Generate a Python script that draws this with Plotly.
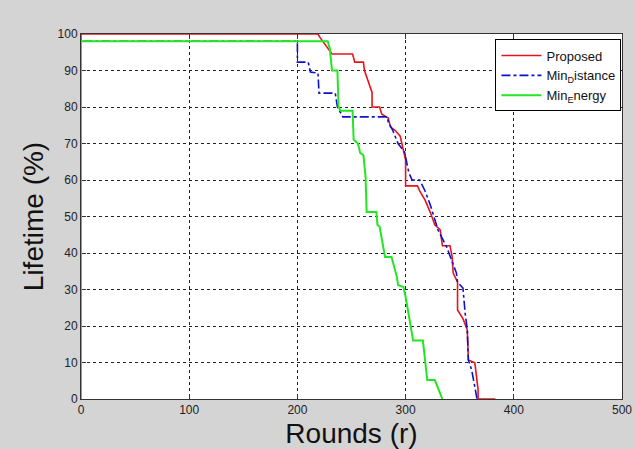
import plotly.graph_objects as go

# Proposed
prop_r = [0, 0, 219, 221, 232, 251, 253, 261, 262, 269, 269, 276, 278, 284, 286, 290, 295, 298, 300, 300, 311, 313, 318, 323, 327, 332, 334, 341, 343, 344, 348, 348, 353, 357, 358, 364, 367, 367, 383]
prop_v = [0, 100, 100, 99, 94.5, 94.5, 92.3, 92.3, 90, 84, 80, 80, 78, 77, 74.5, 73.7, 72, 68, 65.5, 58.4, 58.4, 57, 54.5, 51, 47.7, 46.3, 42, 42, 39, 34.5, 32, 24.4, 22, 19, 10.7, 9.9, 2.5, 0, 0]

# Min Distance
dist_r = [0, 0, 200, 200, 210, 212, 219, 220, 235, 237, 242, 283, 284, 288, 293, 299, 303, 306, 313, 318, 323, 327, 330, 338, 343, 347, 348, 353, 355, 357, 358, 361, 364, 366]
dist_v = [0, 98, 98, 92.3, 92.3, 89.6, 89.3, 83.8, 83.8, 80, 77.3, 77.3, 75.9, 73.7, 70, 67.7, 62, 60, 60, 57, 53, 49, 46.3, 41.6, 37.5, 34.5, 32, 30.4, 23.6, 19, 10.7, 8, 3.3, 0]

# Min Energy
en_r = [0, 0, 228, 230, 232, 237, 238, 240, 251, 252, 256, 258, 261, 263, 264, 273, 274, 276, 281, 287, 292, 293, 298, 300, 307, 316, 320, 327, 334]
en_v = [0, 98, 98, 96, 90, 90, 80, 79, 79, 71, 70, 67.4, 66.8, 60.8, 51.2, 51.2, 47.7, 47.2, 38.9, 38.9, 33.4, 31.2, 30.7, 28, 16, 16, 5.2, 5.2, 0]

x_ticks = [0, 100, 200, 300, 400, 500]
y_ticks = [0, 10, 20, 30, 40, 50, 60, 70, 80, 90, 100]

fig = go.Figure()
fig.add_trace(go.Scatter(x=prop_r, y=prop_v, mode="lines", name="Proposed",
                         line=dict(color="#e8141c", width=1.6)))
fig.add_trace(go.Scatter(x=dist_r, y=dist_v, mode="lines", name="Min<sub>D</sub>istance",
                         line=dict(color="#1010c8", width=1.6, dash="dashdot")))
fig.add_trace(go.Scatter(x=en_r, y=en_v, mode="lines", name="Min<sub>E</sub>nergy",
                         line=dict(color="#22e622", width=2)))

axis_common = dict(
    showline=True, linecolor="#333333", linewidth=1, mirror="ticks",
    ticks="inside", ticklen=5, tickcolor="#333333",
    showgrid=True, gridcolor="#222222", gridwidth=1, griddash="3px,3px",
    zeroline=False, layer="below traces",
    tickfont=dict(family="Arial, Liberation Sans", size=12, color="#222222"),
)

fig.update_xaxes(range=[0, 500], tickvals=x_ticks, automargin=False,
                 title=dict(text="Rounds (r)", font=dict(family="Arial, Liberation Sans", size=28, color="#111111")),
                 **axis_common)
fig.update_yaxes(range=[0, 100], tickvals=y_ticks, automargin=True,
                 title=dict(text="Lifetime (%)", standoff=5,
                            font=dict(family="Arial, Liberation Sans", size=28, color="#111111")),
                 **axis_common)

fig.update_layout(
    width=635, height=449,
    margin=dict(l=81, r=13, t=34, b=50),
    paper_bgcolor="#d4d4d4", plot_bgcolor="white",
    showlegend=True,
    legend=dict(x=0.999, y=0.985, xanchor="right", yanchor="top",
                bgcolor="white", bordercolor="black", borderwidth=1,
                font=dict(family="Arial, Liberation Sans", size=13, color="#111111"),
                tracegroupgap=0, itemwidth=40),
)

fig.write_html("out.html", config={"displayModeBar": False},
               post_script="document.body.style.margin='0';document.body.style.background='#d4d4d4';")
